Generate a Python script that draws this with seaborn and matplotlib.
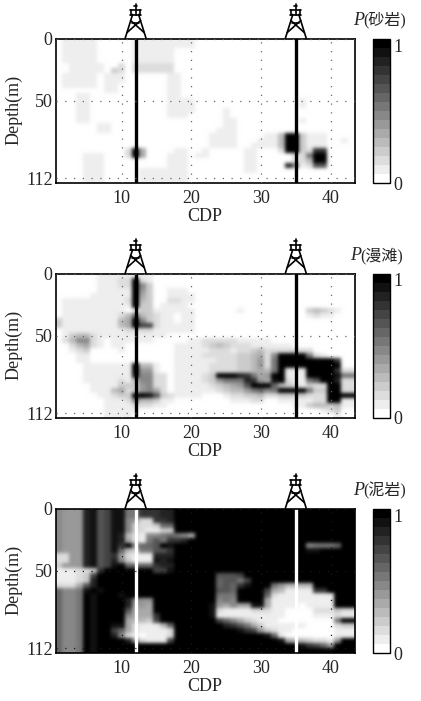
import numpy as np
import pandas as pd
import matplotlib
matplotlib.use("Agg")
import matplotlib.pyplot as plt
import seaborn as sns
from matplotlib.colors import ListedColormap
from matplotlib.lines import Line2D
from matplotlib.transforms import IdentityTransform

# one string per depth row (4 m), one hex digit per CDP 1..43, 0 = P 0, f = P 1
sand_rows = [
    "0111110000 0111111111 0000000000 0000000000 000",
    "0111110000 0111111111 0000000000 0000000000 000",
    "0111110000 0111111000 0000000000 0000000000 000",
    "0111110000 0111111000 0000000000 0000000000 000",
    "0111110000 0111111000 0000000000 0000000000 000",
    "0011111002 0222222000 0000000000 0000000000 000",
    "0011111032 0222222000 0000000000 0000000000 000",
    "0111110111 0000001100 0000000000 0000000000 000",
    "0111110111 0000001100 0000000000 0000000000 000",
    "0111110110 0000001100 0000000000 0000000000 000",
    "0000000110 0000001100 0000000000 0000000000 000",
    "0001100000 0000001100 0000000000 0000000000 000",
    "0001100000 0000001111 0000000000 0000010000 000",
    "0001100000 0000001111 0000000000 0000010000 000",
    "0001100000 0000001111 0000100000 0000000000 000",
    "0001100000 0000001110 0000100000 0000000000 000",
    "0001100000 0000000000 0000110000 0000010000 000",
    "0000001100 0000000000 0000110000 0000000000 000",
    "0000001100 0000000000 0001110000 0000000000 000",
    "0000000000 0000000000 0011110000 114ff31110 000",
    "0000000000 0000000000 0011110001 114ff31110 010",
    "0000000000 0000000000 0011110011 114ff31110 000",
    "0000000000 2f50000110 0100000110 002ff32cc0 000",
    "0000111000 2f50001110 1100000110 0000228ff0 000",
    "0000111000 0000001110 0000000110 0000224ff0 000",
    "0000111000 0000001110 0000000110 000d812aa0 000",
    "0000111000 0011111110 0000000110 0000000000 000",
    "0000111000 0011111110 0000000000 0000000000 000",
    "0000111000 0011111110 0000000000 0000000000 000",
]
beach_rows = [
    "0000001111 1111000000 0000000000 0000000000 000",
    "0000001112 2f21000000 0000000000 0000000000 000",
    "0000001112 2f73000000 0000000000 0000000000 000",
    "0000001111 1f63001110 0000000000 0000000000 000",
    "0000011111 1f53001111 0000000000 0000000000 000",
    "0111111111 2f43002211 0000000000 0000000000 000",
    "0111111111 1f33011110 0000000000 0000000000 000",
    "0111111111 0133111111 0000001000 0000003432 100",
    "0111111112 4943211011 0000000000 0000001211 000",
    "3111111114 5f73211011 0000000000 0000000000 000",
    "3111111114 5fbb211111 0000000000 0000000000 000",
    "0111111111 2222111111 0000000000 0000000000 000",
    "0134421111 1111110000 0000000000 0000000000 000",
    "0247721011 1111000001 1222221111 1000000000 000",
    "0024521011 0000000111 1234322211 1111000000 000",
    "0012300001 0000000111 1122212234 2222222000 000",
    "0001100000 0000000111 1222223345 27ffff8210 000",
    "0001100000 0000000111 1112223346 28ffffffff c00",
    "0000111111 1f44100111 1122223346 28ffffffff f00",
    "0000111111 1f66100111 1122223345 48f111ffff c22",
    "0000111111 1e77220111 123fffdc85 6ff111ffff e88",
    "0000111112 1477220111 1236888dc6 5ef2118aff d22",
    "0000011113 3367220111 1123456aff f94321322f f22",
    "0000011145 2367520111 1112344689 78ffff833f f22",
    "0000001123 3ffea32111 1000122334 223333222f fff",
    "0000000111 2744311000 0000011122 001111122f f11",
    "0000000111 1222110000 0000000000 0000113443 411",
    "0000000111 1100000000 0000000000 0000000012 300",
    "0000000111 1000000000 0000000000 0000000000 100",
]
mud_rows = [
    "7666deabee 88cccddfff ffffffffff ffffffffff fff",
    "7666deabee 88cccddfff ffffffffff ffffffffff fff",
    "7666deabee 7622ccdfff ffffffffff ffffffffff fff",
    "7666deabee 7322399fff ffffffffff ffffffffff fff",
    "7666deabee 7321133fff ffffffffff ffffffffff fff",
    "7666deabed 4217789875 ffffffffff ffffffffff fff",
    "7666deabed 5218a8ccdf ffffffffff ffffffffff fff",
    "7666deabec f799afefff ffffffffff ffffff7888 9ff",
    "7666deabe9 4388aacfff ffffffffff ffffffeeff fff",
    "2266deabc6 2111dddfff ffffffffff ffffffffff fff",
    "2266deabd7 3111edefff ffffffffff ffffffffff fff",
    "3666deabef 9999cddfff ffffffffff ffffffffff fff",
    "111223cfff ffffbbefff ffffffffff ffffffffff fff",
    "11123bffff ffffffffff fffaaabfff ffffffffff fff",
    "11123dffff ffffffffff fff9aa8bff ffffffffff fff",
    "2225adffff ffffffffff fff9a9ceff f864444fff fff",
    "9778efefff ffffffffff fffaa9ffff b541111ccf fff",
    "9778fefffe ffffffffff fff888ffff 9211111111 fff",
    "9778feffff d766ffffff fff787ffff 5111111111 fff",
    "9778feffff d665ffffff ffe65755ee 5111101111 fff",
    "9778feffff a555ffffff ffe2111122 2110000222 322",
    "9778feffff 7555cfffff ffe1111111 1110000111 211",
    "9778feffff 5443bfffff fffb975321 1100000000 8ff",
    "9778feffee 5211149fff ffffdca853 1111110000 233",
    "9778feffb9 5211112fff ffffffecb6 3211000000 111",
    "9778feffd7 2101112fff ffffffffff e910000000 111",
    "9778feffff d62111bfff ffffffffff ffe5443221 6ff",
    "9778feffff ffffffffff ffffffffff fffffecb96 fff",
    "9778feffff ffffffffff ffffffffff ffffffffff fff",
]

cdp_ticks = [10, 20, 30, 40]
depth_ticks = [0, 50, 112]
well_cdp = [12, 35]
colorbar_levels = 16
row_depth = 4
panel_names = ["砂岩", "漫滩", "泥岩"]
well_colors = ["black", "black", "white"]
grid_colors = ["0.4", "0.4", "0.1"]


def rows_to_frame(rows):
    clean = [r.replace(" ", "") for r in rows]
    values = [[int(c, 16) / 15 for c in r] for r in clean]
    return pd.DataFrame(values, columns=range(1, 44))


def blur(image, dpi):
    # the printed figure is soft, smooth the cell edges a bit
    x = np.arange(-5, 6)
    kernel = np.exp(-x**2 / (2 * 1.8**2))
    kernel = kernel / kernel.sum()
    out = np.pad(image, ((5, 5), (5, 5), (0, 0)), mode="edge")
    for axis in (0, 1):
        out = np.apply_along_axis(lambda m: np.convolve(m, kernel, mode="same"), axis, out)
    return out[5:-5, 5:-5], 0, 0


def draw_derrick(fig, ax, cdp):
    x0, y0 = ax.transData.transform((cdp - 0.5, 0))
    segments = [
        ([-10.5, -3], [0, 24]), ([10.5, 3], [0, 24]),
        ([-5.5, 5.5], [24, 24]), ([-3.5, 3.5], [16, 16]),
        ([-8.5, 5], [6, 18]), ([8.5, -5], [6, 18]),
        ([-5.5, 5.5], [29, 29]),
        ([-4.5, -4.5], [24, 29]), ([4.5, 4.5], [24, 29]),
        ([0, 0], [24, 35]), ([-1.5, 1.5], [33, 33]),
    ]
    for xs, ys in segments:
        fig.add_artist(Line2D(np.array(xs) + x0, np.array(ys) + y0, color="black", lw=1.2,
                              transform=IdentityTransform()))


sns.set_theme(style="white")
plt.rcParams["font.family"] = ["Liberation Serif", "Noto Sans CJK SC"]

W, H = 421, 701
fig = plt.figure(figsize=(W / 100, H / 100), dpi=100)
cmap = ListedColormap(plt.get_cmap("gray_r")(np.linspace(0, 1, colorbar_levels)))
panels = [sand_rows, beach_rows, mud_rows]
tops = [38.5, 273.5, 508.5]
panel_h = 144.5
label_x = [353, 350, 353]

for i, rows in enumerate(panels):
    top = tops[i]
    bottom = 1 - (top + panel_h) / H
    ax = fig.add_axes([55.5 / W, bottom, 299.5 / W, panel_h / H])
    cax = fig.add_axes([372.5 / W, bottom, 17 / W, panel_h / H])
    sns.heatmap(rows_to_frame(rows), ax=ax, cbar_ax=cax, cmap=cmap, vmin=0, vmax=1,
                xticklabels=False, yticklabels=False,
                cbar_kws={"ticks": [0, 1]})
    ax.collections[0].set_agg_filter(blur)

    ax.set_xticks([c - 0.5 for c in cdp_ticks])
    ax.set_xticklabels(cdp_ticks, rotation=0, fontsize=13)
    ax.set_yticks([d / row_depth for d in depth_ticks])
    ax.set_yticklabels(depth_ticks, rotation=0, fontsize=13)
    ax.tick_params(axis="x", length=0, pad=5)
    ax.tick_params(axis="y", length=0, pad=2)
    ax.set_axisbelow(False)
    ax.grid(True, color=grid_colors[i], lw=0.9, ls=(0, (1, 6)))
    ax.set_xlabel("CDP", fontsize=13, labelpad=1)
    for w in well_cdp:
        ax.axvline(w - 0.5, color=well_colors[i], lw=2.4)
        draw_derrick(fig, ax, w)
    for s in ax.spines.values():
        s.set_visible(True)
        s.set_linewidth(1.2)
        s.set_color("black")

    fig.text(14 / W, 1 - (top + 71) / H, "Depth(m)", rotation=90, fontsize=13,
             ha="center", va="center")
    y_txt = 1 - (top - 18) / H
    fig.text(label_x[i] / W, y_txt, "P", style="italic", fontsize=13, va="center")
    fig.text((label_x[i] + 10.5) / W, y_txt, "(" + panel_names[i] + ")", fontsize=11.5, va="center")

    cbar = ax.collections[0].colorbar
    cbar.outline.set_visible(True)
    cbar.outline.set_edgecolor("black")
    cbar.outline.set_linewidth(1.0)
    cbar.ax.tick_params(length=0, pad=3, labelsize=13)
    cbar.ax.get_yticklabels()[1].set_va("top")

fig.savefig("out.png", dpi=100, facecolor="white")
